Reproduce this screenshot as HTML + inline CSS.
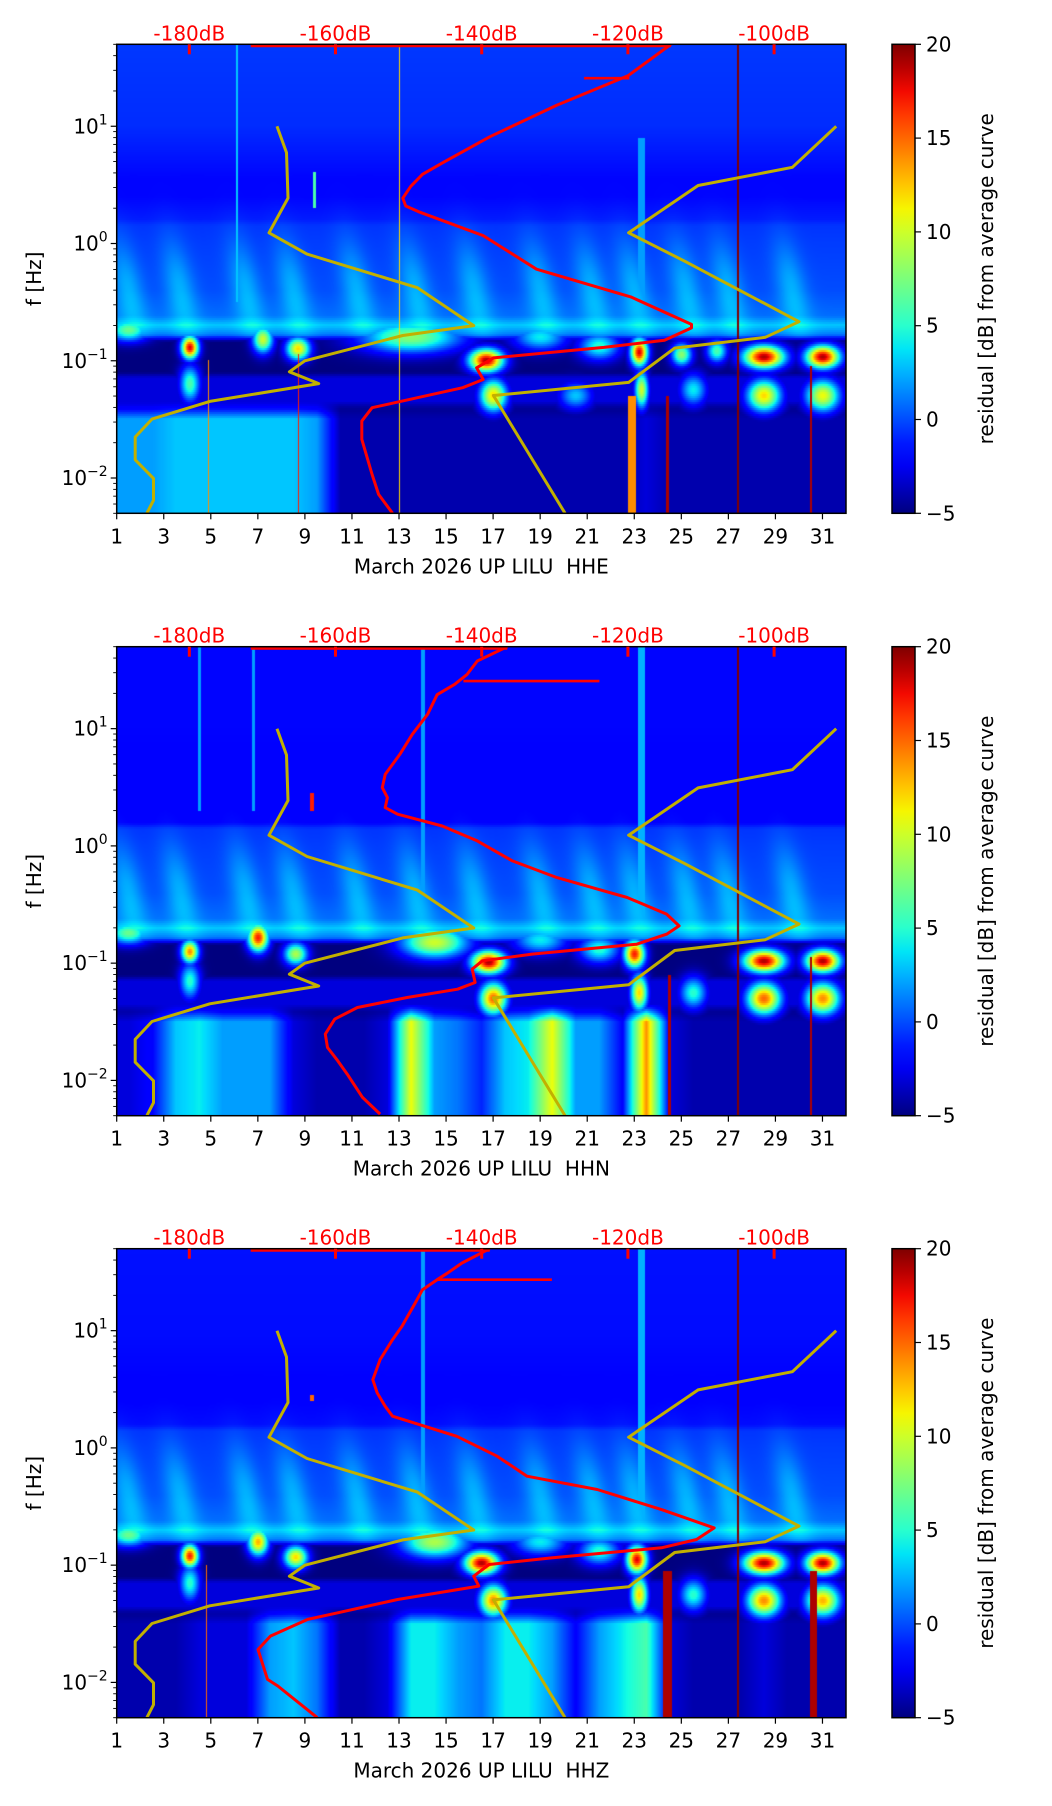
<!DOCTYPE html>
<html><head><meta charset="utf-8">
<style>
html,body{margin:0;padding:0;background:#fff;}
body{width:1052px;height:1806px;position:relative;overflow:hidden;font-family:"DejaVu Sans","Liberation Sans",sans-serif;}
canvas{position:absolute;}
svg{position:absolute;left:0;top:0;}
text{font-family:"DejaVu Sans","Liberation Sans",sans-serif;font-size:20px;}
</style></head>
<body>
<canvas id="c0"></canvas>
<canvas id="c1"></canvas>
<canvas id="c2"></canvas>
<svg id="ov" width="1052" height="1806"></svg>
<script>
// ---------- data ----------
const dayTicks = [1,3,5,7,9,11,13,15,17,19,21,23,25,27,29,31];
const dbTicks = [-180,-160,-140,-120,-100];
const cbTicks = [20,15,10,5,0,-5];
const channels = ["HHE","HHN","HHZ"];
const bgLf = [1.7,1.0,0.55,0.4,0.2,0.15,0.0,-0.4,-0.62,-0.7,-0.78,-0.84,-1.1,-1.15,-1.35,-1.42,-2.31];
const hheBg = [-0.5,-0.8,-1.8,-1.8,-1.2,-0.6,-0.4,0,0.8,3,1,-5,-5,-3,-3,-5,-5];
const hhnBg = [-1.8,-1.8,-2,-2,-2,-0.6,-0.4,0,0.8,3,1,-5,-5,-3,-3,-5,-5];
const hhzBg = [-1.5,-1.6,-1.9,-1.9,-1.6,-0.6,-0.4,0,0.8,3,1,-5,-5,-3,-3,-5,-5];
const hheLow = [2,2,3,3,3,3,3,3,2,-4,-4,-4,-4,-4,-4,-4,-4,-4,-4,-4,-4,-4,-3,-4,-4,-4,-4,-4,-4,-4,-4];
const hhnLow = [-3,-2,3,4,2,2,2,-3,-4,-4,-4,-3,11,2,1,-1,3,4,11,2,2,-2,14,-3,-4,-4,-4,-4,-4,-4,-4];
const hhzLow = [-4,-4,-4,-3,-3,-3,2,3,1,-4,-4,-3,4,4,2,1,4,4,2,-2,2,4,6,-3,-4,-4,-4,-3,-4,-4,-4];
const plumeDays = [1.8,4.0,6.8,8.8,11.5,14,16.5,19.3,21.5,23.3,25.5,27.3,30];
const hheBlobs = [[4.1,-0.89,18,0.25,0.05],[4.1,-1.2,6,0.3,0.08],[7.2,-0.82,10,0.3,0.06],[8.7,-0.9,12,0.35,0.05],[13.5,-0.8,8,1.5,0.07],[16.7,-1.0,19,0.5,0.05],[17.0,-1.3,12,0.4,0.07],[19,-0.8,4,0.8,0.06],[21.5,-0.88,5,0.6,0.06],[23.2,-0.93,18,0.25,0.06],[23.3,-1.25,10,0.2,0.08],[25,-0.95,8,0.3,0.05],[26.5,-0.92,6,0.3,0.05],[28.5,-0.97,19,0.6,0.05],[28.5,-1.3,12,0.5,0.07],[31,-0.97,19,0.5,0.05],[31,-1.3,11,0.5,0.07],[20.5,-1.3,3,0.5,0.06],[25.5,-1.25,4,0.4,0.07],[1.5,-0.74,7,0.6,0.05]];
const hhnBlobs = [[4.1,-0.9,14,0.25,0.05],[4.1,-1.15,5,0.3,0.08],[7.0,-0.78,17,0.3,0.06],[8.6,-0.92,9,0.35,0.05],[14.5,-0.82,10,1.0,0.07],[16.8,-0.99,19,0.5,0.05],[17.0,-1.3,15,0.4,0.07],[19,-0.8,4,0.8,0.06],[21.5,-0.88,5,0.6,0.06],[23.0,-0.92,17,0.3,0.06],[23.2,-1.25,12,0.25,0.08],[25.5,-1.25,5,0.4,0.07],[28.5,-0.98,19,0.6,0.05],[28.5,-1.3,15,0.5,0.07],[31,-0.98,19,0.5,0.05],[31,-1.3,14,0.5,0.07],[1.5,-0.74,7,0.6,0.05]];
const hhzBlobs = [[4.1,-0.92,17,0.25,0.05],[4.1,-1.15,5,0.3,0.08],[7.0,-0.8,13,0.3,0.06],[8.6,-0.93,12,0.35,0.05],[14.5,-0.8,9,1.0,0.07],[16.5,-0.98,19,0.5,0.05],[17.0,-1.3,14,0.4,0.07],[19,-0.8,4,0.8,0.06],[21.5,-0.88,5,0.6,0.06],[23.1,-0.95,18,0.3,0.06],[23.2,-1.25,12,0.25,0.08],[25.5,-1.25,5,0.4,0.07],[28.5,-0.98,19,0.6,0.05],[28.5,-1.3,14,0.5,0.07],[31,-0.98,19,0.5,0.05],[31,-1.3,13,0.5,0.07],[1.5,-0.74,7,0.6,0.05]];
const hheLines = [[27.4,20,1.7,-2.31,0.06],[24.4,19,-1.3,-2.31,0.15],[30.5,19,-1.05,-2.31,0.12],[22.9,14,-1.3,-2.31,0.35],[23.3,2,0.9,-0.6,0.3],[13,12,1.7,-2.31,0.04],[8.7,17,-0.95,-2.31,0.05],[4.9,14,-1.0,-2.31,0.04],[6.1,3,1.7,-0.5,0.06],[9.4,6,0.6,0.3,0.12]];
const hhnLines = [[27.4,20,1.7,-2.31,0.06],[24.5,19,-1.1,-2.31,0.12],[30.5,19,-0.95,-2.31,0.1],[23.3,2.5,1.7,-0.6,0.3],[9.3,17,0.45,0.3,0.15],[14.0,2,1.7,-0.6,0.15],[6.8,2,1.7,0.3,0.1],[4.5,2,1.7,0.3,0.1]];
const hhzLines = [[27.4,20,1.7,-2.31,0.06],[24.4,19,-1.05,-2.31,0.35],[30.6,19,-1.05,-2.31,0.3],[23.3,2.5,1.7,-0.6,0.3],[14.0,2,1.7,-0.6,0.15],[9.3,15,0.45,0.4,0.15],[4.8,15,-1.0,-2.31,0.05]];
const nlnmDb = [-168.0,-166.7,-166.5,-169.1,-163.9,-148.8,-141.1,-150.8,-164.2,-166.3,-162.3,-177.2,-185.1,-187.4,-187.4,-184.9,-184.9,-185.8];
const nlnmLf = [1.0,0.775,0.387,0.091,-0.09,-0.377,-0.70,-0.785,-1.0,-1.094,-1.195,-1.347,-1.498,-1.65,-1.845,-2.003,-2.19,-2.30];
const nhnmDb = [-91.5,-97.5,-110.4,-119.9,-112.2,-96.6,-101.2,-113.6,-119.9,-138.4,-128.6];
const nhnmLf = [1.0,0.65,0.495,0.091,-0.152,-0.667,-0.80,-0.892,-1.185,-1.296,-2.30];
const hheDb = [-114.1,-120.0,-129.7,-138.9,-145.3,-148.1,-149.7,-150.8,-150.4,-148.6,-144.9,-139.8,-132.5,-119.6,-111.3,-111.3,-115.0,-123.3,-138.4,-140.7,-139.8,-142.6,-155.0,-156.4,-156.4,-155.0,-154.1,-152.2];
const hheLf = [1.699,1.43,1.18,0.91,0.69,0.59,0.488,0.387,0.32,0.27,0.185,0.067,-0.219,-0.455,-0.69,-0.72,-0.825,-0.886,-0.976,-1.06,-1.16,-1.23,-1.40,-1.515,-1.67,-1.97,-2.14,-2.30];
const hhnDb = [-136.5,-140.6,-142.0,-143.7,-146.1,-147.4,-149.5,-151.2,-153.2,-153.6,-152.9,-153.2,-151.5,-145.4,-140.6,-135.8,-129.7,-120.1,-114.7,-113.0,-114.7,-118.8,-133.1,-139.9,-141.3,-140.9,-143.3,-150.2,-157.0,-160.1,-161.4,-161.1,-159.7,-158.4,-156.3,-153.9];
const hhnLf = [1.699,1.577,1.463,1.378,1.29,1.122,0.952,0.78,0.61,0.497,0.412,0.327,0.27,0.17,0.043,-0.128,-0.27,-0.44,-0.582,-0.682,-0.753,-0.838,-0.923,-0.98,-1.051,-1.165,-1.222,-1.293,-1.378,-1.477,-1.605,-1.719,-1.832,-1.946,-2.145,-2.287];
const hhzDb = [-138.9,-142.7,-144.7,-146.1,-148.1,-149.1,-150.9,-152.2,-153.9,-154.9,-154.3,-153.2,-152.2,-143.4,-137.9,-133.8,-124.2,-115.4,-108.2,-110.6,-115.4,-130.3,-139.0,-141.1,-140.4,-151.5,-159.7,-163.8,-168.9,-170.6,-169.3,-167.9,-162.5];
const hhzLf = [1.699,1.577,1.49,1.435,1.349,1.236,1.037,0.923,0.753,0.582,0.469,0.355,0.27,0.099,-0.071,-0.241,-0.355,-0.526,-0.682,-0.781,-0.852,-0.937,-0.994,-1.094,-1.179,-1.293,-1.406,-1.463,-1.605,-1.719,-1.974,-2.031,-2.30];
const hheSpur = [-126.0,-119.8,1.41];
const hhnSpur = [-142.5,-123.9,1.406];
const hhzSpur = [-146.0,-130.4,1.435];
const hheTopSeg = [-171.6,-114.1];
const hhnTopSeg = [-171.6,-136.5];
const hhzTopSeg = [-171.6,-138.9];

// ---------- layout ----------
const L = 116.7, R = 846, W = R - L, H = 469;
const tops = [44.3, 646.7, 1248.7];
const LFTOP = Math.log10(50), LFBOT = Math.log10(0.005);
const CBX = 892, CBW = 23;
const xDay = d => L + (d - 1) / 31 * W;
const yLf = (T, lf) => T + (LFTOP - lf) / (LFTOP - LFBOT) * H;
const xDb = db => 189.3 + (db + 180) * 7.31;

const plots = [
 {bg:hheBg, low:hheLow, blobs:hheBlobs, lines:hheLines, db:hheDb, lf:hheLf, spur:hheSpur, top:hheTopSeg},
 {bg:hhnBg, low:hhnLow, blobs:hhnBlobs, lines:hhnLines, db:hhnDb, lf:hhnLf, spur:hhnSpur, top:hhnTopSeg},
 {bg:hhzBg, low:hhzLow, blobs:hhzBlobs, lines:hhzLines, db:hhzDb, lf:hhzLf, spur:hhzSpur, top:hhzTopSeg}
];

function jetC(t){
  t = Math.max(0, Math.min(1, t));
  function seg(pts){ for(let i=1;i<pts.length;i++){ if(t<=pts[i][0]){const a=pts[i-1],b=pts[i];return a[1]+(b[1]-a[1])*(t-a[0])/(b[0]-a[0]);} } return pts[pts.length-1][1]; }
  const r = seg([[0,0],[0.35,0],[0.66,1],[0.89,1],[1,0.5]]);
  const g = seg([[0,0],[0.125,0],[0.375,1],[0.64,1],[0.91,0],[1,0]]);
  const b = seg([[0,0.5],[0.11,1],[0.34,1],[0.65,0],[1,0]]);
  return [r*255|0, g*255|0, b*255|0];
}
function interpDesc(xs, ys, x){
  if (x >= xs[0]) return ys[0];
  for (let i=1;i<xs.length;i++){ if (x >= xs[i]) { const f=(x-xs[i-1])/(xs[i]-xs[i-1]); return ys[i-1]+(ys[i]-ys[i-1])*f; } }
  return ys[ys.length-1];
}
function lowAt(arr, day){
  const p = day - 1.5;
  const i = Math.floor(p);
  const f = p - i;
  const a = arr[Math.max(0, Math.min(30, i))], b = arr[Math.max(0, Math.min(30, i+1))];
  return a + (b - a) * f;
}
function value(P, day, lf){
  let v = interpDesc(bgLf, P.bg, lf);
  if (lf > -0.8) {
    for (const d of plumeDays) {
      const dc = d - 0.9 * (lf + 0.75);
      v += 2.5 * Math.exp(-((day-dc)**2)/(2*0.45*0.45) - ((lf+0.4)**2)/(2*0.3*0.3));
    }
  }
  if (lf < -1.35) {
    const w = Math.min(1, (-1.35 - lf) / 0.15);
    const lc = lowAt(P.low, day);
    v = v*(1-w) + lc*w;
  }
  for (const b of P.blobs) {
    const sl = b[4] * 1.35;
    const g = Math.exp(-((day-b[0])**2)/(2*b[3]*b[3]) - ((lf-b[1])**2)/(2*sl*sl));
    v = Math.max(v, -5 + (b[2]+5)*g);
  }
  for (const ln of P.lines) {
    if (Math.abs(day-ln[0]) < ln[4]/2 && lf <= ln[2] && lf >= ln[3]) v = Math.max(v, ln[1]);
  }
  return v;
}
plots.forEach((P, k) => {
  const cv = document.getElementById('c'+k);
  const cw = Math.round(W), ch = H;
  cv.width = cw; cv.height = ch;
  cv.style.left = L + 'px'; cv.style.top = tops[k] + 'px';
  const ctx = cv.getContext('2d');
  const img = ctx.createImageData(cw, ch);
  for (let py = 0; py < ch; py += 2) {
    const lf = LFTOP - (py+1)/H*(LFTOP-LFBOT);
    for (let px = 0; px < cw; px++) {
      const day = 1 + (px+0.5)/W*31;
      const c = jetC((value(P, day, lf) + 5) / 25);
      for (let dy=0; dy<2 && py+dy<ch; dy++){
        const o = ((py+dy)*cw + px)*4;
        img.data[o]=c[0]; img.data[o+1]=c[1]; img.data[o+2]=c[2]; img.data[o+3]=255;
      }
    }
  }
  ctx.putImageData(img, 0, 0);
});

// ---------- overlay ----------
const NS = 'http://www.w3.org/2000/svg';
const ov = document.getElementById('ov');
function mk(tag, attrs, parent){ const e=document.createElementNS(NS,tag); for(const a in attrs) e.setAttribute(a, attrs[a]); (parent||ov).appendChild(e); return e; }

const defs = mk('defs', {});
const grad = mk('linearGradient', {id:'jetg', x1:'0', y1:'1', x2:'0', y2:'0'}, defs);
for (let i=0;i<=20;i++){ const c=jetC(i/20); mk('stop',{offset:(i/20).toString(),'stop-color':`rgb(${c[0]},${c[1]},${c[2]})`},grad); }

plots.forEach((P, k) => {
  const T = tops[k], B = T + H;
  const g = mk('g', {});
  
  
  const clip = mk('clipPath', {id:'clip'+k}, defs);
  mk('rect', {x:L, y:T, width:W, height:H}, clip);
  const cg = mk('g', {'clip-path':`url(#clip${k})`}, g);
  const curveLine = (dbs, lfs, color, name) => {
    const pts = dbs.map((d,i)=>xDb(d).toFixed(1)+','+yLf(T,lfs[i]).toFixed(1)).join(' ');
    const pl = mk('polyline', {points:pts, fill:'none', stroke:color, 'stroke-width':3, 'stroke-linejoin':'round'}, cg);
    
    
  };
  curveLine(nlnmDb, nlnmLf, '#c2b000', 'nlnm-curve');
  curveLine(nhnmDb, nhnmLf, '#c2b000', 'nhnm-curve');
  curveLine(P.db, P.lf, '#ff0000', 'psd-curve');
  const sp = mk('line', {x1:xDb(P.spur[0]), x2:xDb(P.spur[1]), y1:yLf(T,P.spur[2]), y2:yLf(T,P.spur[2]), stroke:'#ff0000','stroke-width':2.6}, cg);
  
  
  const ts = mk('line', {x1:xDb(P.top[0]), x2:xDb(P.top[1]), y1:T+1.5, y2:T+1.5, stroke:'#ff0000','stroke-width':3}, cg);
  
  
  const fr = mk('rect', {x:L, y:T, width:W, height:H, fill:'none', stroke:'#000', 'stroke-width':1.5}, g);
  
  
  dayTicks.forEach(d => {
    const x = xDay(d);
    mk('line', {x1:x, x2:x, y1:B, y2:B+6, stroke:'#000','stroke-width':1.2}, g);
    const t = mk('text', {x:x, y:B+30, 'text-anchor':'middle', fill:'#000'}, g);
    t.textContent = d;
    
    
  });
  const xl = mk('text', {x:(L+R)/2, y:B+60, 'text-anchor':'middle', fill:'#000', 'xml:space':'preserve', style:'white-space:pre'}, g);
  xl.textContent = 'March 2026 UP LILU  ' + channels[k];
  
  
  for (let e = -3; e <= 1; e++) {
    for (let m = 1; m <= 9; m++) {
      const lf = e + Math.log10(m);
      if (lf < LFBOT - 1e-6 || lf > LFTOP + 1e-6) continue;
      const y = yLf(T, lf);
      mk('line', {x1:L, x2:L-(m===1?6:3.5), y1:y, y2:y, stroke:'#000','stroke-width':m===1?1.2:0.9}, g);
      if (m === 1 && e >= -2) {
        const t = mk('text', {x:L-9, y:y+7, 'text-anchor':'end', fill:'#000'}, g);
        
        
        const a = mk('tspan', {}, t); a.textContent = '10';
        const s = mk('tspan', {dy:'-9', 'font-size':'14'}, t); s.textContent = e < 0 ? '\u2212' + (-e) : String(e);
      }
    }
  }
  const yl = mk('text', {x:0, y:0, 'text-anchor':'middle', fill:'#000', transform:`translate(41,${T+H/2}) rotate(-90)`}, g);
  yl.textContent = 'f [Hz]';
  
  
  dbTicks.forEach(db => {
    const x = xDb(db);
    mk('line', {x1:x, x2:x, y1:T, y2:T+10, stroke:'#ff0000','stroke-width':3}, g);
    const t = mk('text', {x:x, y:T-4, 'text-anchor':'middle', fill:'#ff0000'}, g);
    t.textContent = db + 'dB';
    
    
  });
  const cb = mk('rect', {x:CBX, y:T, width:CBW, height:H, fill:'url(#jetg)', stroke:'#000','stroke-width':1.5}, g);
  
  
  cbTicks.forEach(v => {
    const y = T + (20 - v) / 25 * H;
    mk('line', {x1:CBX+CBW, x2:CBX+CBW+6, y1:y, y2:y, stroke:'#000','stroke-width':1.2}, g);
    const t = mk('text', {x:CBX+CBW+11, y:y+7, fill:'#000'}, g);
    t.textContent = v < 0 ? '\u2212' + (-v) : String(v);
    
    
  });
  const cl = mk('text', {x:0, y:0, 'text-anchor':'middle', fill:'#000', transform:`translate(993,${T+H/2}) rotate(-90)`}, g);
  cl.textContent = 'residual [dB] from average curve';
  
  
});
</script>
</body></html>
